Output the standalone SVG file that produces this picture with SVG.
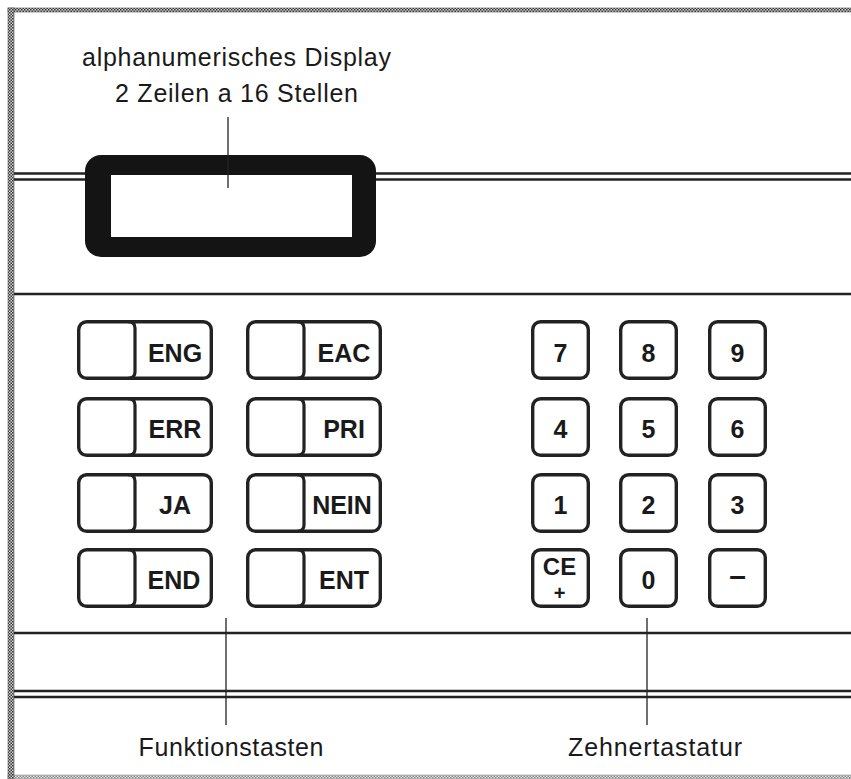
<svg xmlns="http://www.w3.org/2000/svg" width="851" height="779" viewBox="0 0 851 779">
<defs>
<pattern id="chk" patternUnits="userSpaceOnUse" width="3" height="3">
<rect width="3" height="3" fill="#d8d8d8"/>
<rect width="1.5" height="1.5" fill="#333"/>
<rect x="1.5" y="1.5" width="1.5" height="1.5" fill="#333"/>
</pattern>
</defs>
<style>
.frame{fill:url(#chk);stroke:#555;stroke-width:0.6}
.rule{stroke:#222;stroke-width:2.6;fill:none}
.key{fill:#fff;stroke:#222;stroke-width:3.4}
.div{stroke:#222;stroke-width:3.2;fill:none}
.lead{stroke:#222;stroke-width:1.3;fill:none}
.lbl{font-family:"Liberation Sans",Arial,Helvetica,sans-serif;font-size:25px;fill:#1a1a1a;text-anchor:middle}
.kt{font-family:"Liberation Sans",Arial,Helvetica,sans-serif;font-size:25px;font-weight:bold;fill:#1a1a1a;text-anchor:middle}
</style>
<rect width="851" height="779" fill="#fff"/>

<g id="frame">
<rect class="frame" x="8" y="8" width="843" height="4"/>
<rect class="frame" x="8" y="8" width="6" height="771"/>
<rect class="frame" x="8" y="775" width="843" height="4" opacity="0.6"/>
</g>

<g id="panel-rules">
<line class="rule" x1="14" y1="173.5" x2="86" y2="173.5"/>
<line class="rule" x1="14" y1="179.5" x2="86" y2="179.5"/>
<line class="rule" x1="375" y1="173.5" x2="851" y2="173.5"/>
<line class="rule" x1="375" y1="179.5" x2="851" y2="179.5"/>
<line class="rule" x1="14" y1="294" x2="851" y2="294"/>
<line class="rule" x1="14" y1="633" x2="851" y2="633"/>
<line class="rule" x1="14" y1="691" x2="851" y2="691"/>
<line class="rule" x1="14" y1="697" x2="851" y2="697"/>
</g>

<g id="display">
<rect x="85" y="155" width="291" height="102" rx="16" fill="#141414"/>
<rect x="111" y="175" width="241" height="62" fill="#fff"/>
</g>

<g id="label-display">
<text class="lbl" x="236.5" y="66" textLength="309">alphanumerisches Display</text>
<text class="lbl" x="236.5" y="102" textLength="243">2 Zeilen a 16 Stellen</text>
</g>

<g id="function-keys">
<g id="key-ENG">
<rect class="key" x="78.7" y="321.7" width="132.6" height="56.6" rx="8"/>
<path class="div" d="M128 321.7 Q135 321.7 135 328 V372 Q135 378.3 128 378.3"/>
<text class="kt" x="175" y="362">ENG</text>
</g>
<g id="key-EAC">
<rect class="key" x="247.7" y="321.7" width="132.6" height="56.6" rx="8"/>
<path class="div" d="M297 321.7 Q304 321.7 304 328 V372 Q304 378.3 297 378.3"/>
<text class="kt" x="344" y="362">EAC</text>
</g>
<g id="key-ERR">
<rect class="key" x="78.7" y="398.7" width="132.6" height="56.6" rx="8"/>
<path class="div" d="M128 398.7 Q135 398.7 135 405 V449 Q135 455.3 128 455.3"/>
<text class="kt" x="175" y="438">ERR</text>
</g>
<g id="key-PRI">
<rect class="key" x="247.7" y="398.7" width="132.6" height="56.6" rx="8"/>
<path class="div" d="M297 398.7 Q304 398.7 304 405 V449 Q304 455.3 297 455.3"/>
<text class="kt" x="344" y="438">PRI</text>
</g>
<g id="key-JA">
<rect class="key" x="78.7" y="474.7" width="132.6" height="56.6" rx="8"/>
<path class="div" d="M128 474.7 Q135 474.7 135 481 V525 Q135 531.3 128 531.3"/>
<text class="kt" x="175" y="514">JA</text>
</g>
<g id="key-NEIN">
<rect class="key" x="247.7" y="474.7" width="132.6" height="56.6" rx="8"/>
<path class="div" d="M297 474.7 Q304 474.7 304 481 V525 Q304 531.3 297 531.3"/>
<text class="kt" x="342" y="514">NEIN</text>
</g>
<g id="key-END">
<rect class="key" x="78.7" y="549.7" width="132.6" height="56.6" rx="8"/>
<path class="div" d="M128 549.7 Q135 549.7 135 556 V600 Q135 606.3 128 606.3"/>
<text class="kt" x="174" y="589">END</text>
</g>
<g id="key-ENT">
<rect class="key" x="247.7" y="549.7" width="132.6" height="56.6" rx="8"/>
<path class="div" d="M297 549.7 Q304 549.7 304 556 V600 Q304 606.3 297 606.3"/>
<text class="kt" x="344" y="589">ENT</text>
</g>
</g>

<g id="numeric-keys">
<g id="key-7"><rect class="key" x="532.7" y="321.7" width="55.6" height="56.6" rx="8"/><text class="kt" x="560.5" y="362">7</text></g>
<g id="key-8"><rect class="key" x="620.7" y="321.7" width="55.6" height="56.6" rx="8"/><text class="kt" x="648.5" y="362">8</text></g>
<g id="key-9"><rect class="key" x="709.7" y="321.7" width="55.6" height="56.6" rx="8"/><text class="kt" x="737.5" y="362">9</text></g>
<g id="key-4"><rect class="key" x="532.7" y="398.7" width="55.6" height="56.6" rx="8"/><text class="kt" x="560.5" y="438">4</text></g>
<g id="key-5"><rect class="key" x="620.7" y="398.7" width="55.6" height="56.6" rx="8"/><text class="kt" x="648.5" y="438">5</text></g>
<g id="key-6"><rect class="key" x="709.7" y="398.7" width="55.6" height="56.6" rx="8"/><text class="kt" x="737.5" y="438">6</text></g>
<g id="key-1"><rect class="key" x="532.7" y="474.7" width="55.6" height="56.6" rx="8"/><text class="kt" x="560.5" y="514">1</text></g>
<g id="key-2"><rect class="key" x="620.7" y="474.7" width="55.6" height="56.6" rx="8"/><text class="kt" x="648.5" y="514">2</text></g>
<g id="key-3"><rect class="key" x="709.7" y="474.7" width="55.6" height="56.6" rx="8"/><text class="kt" x="737.5" y="514">3</text></g>
<g id="key-CE"><rect class="key" x="532.7" y="549.7" width="55.6" height="56.6" rx="8"/><text class="kt" x="559.5" y="575" style="font-size:24px">CE</text><text class="kt" x="559.5" y="600" style="font-size:20px">+</text></g>
<g id="key-0"><rect class="key" x="620.7" y="549.7" width="55.6" height="56.6" rx="8"/><text class="kt" x="648.5" y="589">0</text></g>
<g id="key-minus"><rect class="key" x="709.7" y="549.7" width="55.6" height="56.6" rx="8"/><text class="kt" x="737.5" y="586" style="font-size:30px">–</text></g>
</g>

<g id="connectors">
<line class="lead" x1="228" y1="117" x2="228" y2="188"/>
<line class="lead" x1="226" y1="618" x2="226" y2="725"/>
<line class="lead" x1="647" y1="618" x2="647" y2="725"/>
</g>

<g id="label-bottom">
<text class="lbl" x="231" y="756" textLength="185">Funktionstasten</text>
<text class="lbl" x="655" y="756" textLength="174">Zehnertastatur</text>
</g>
</svg>
